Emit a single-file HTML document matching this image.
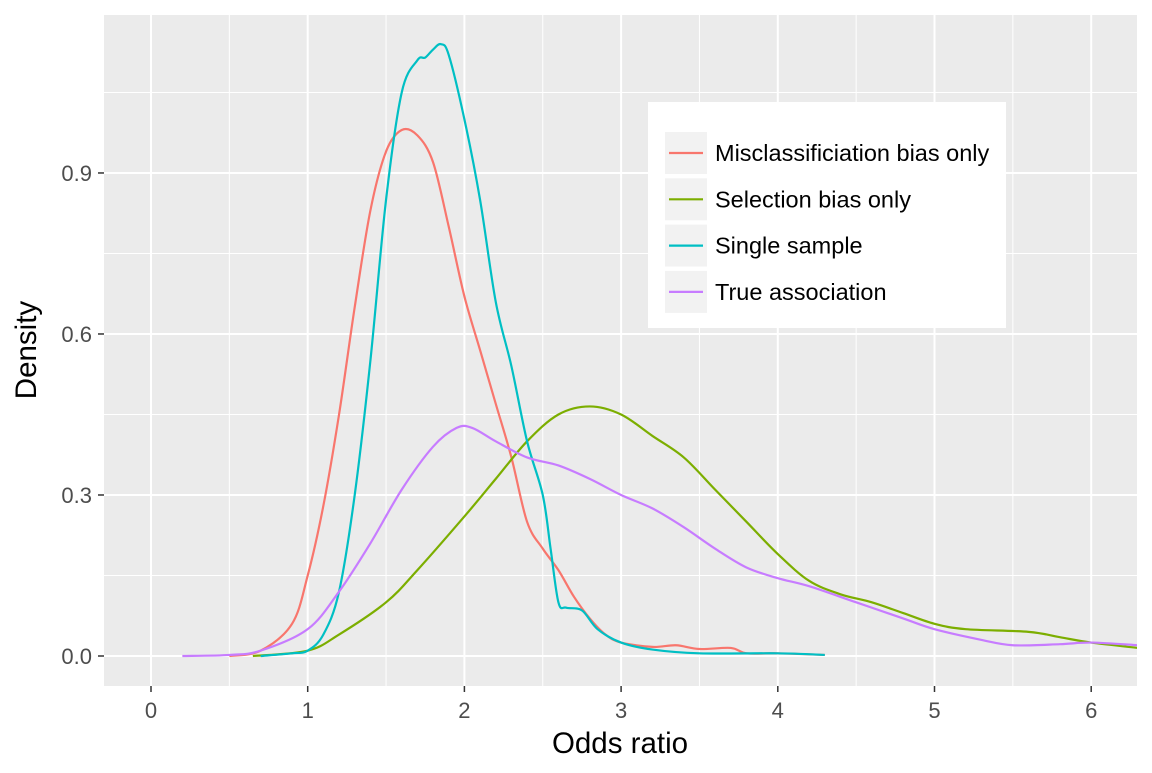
<!DOCTYPE html>
<html><head><meta charset="utf-8"><style>
body{margin:0;background:#fff;font-family:"Liberation Sans",sans-serif}
</style></head><body>
<svg id="c" width="1152" height="768" xmlns="http://www.w3.org/2000/svg">
<defs><clipPath id="pc"><rect x="104" y="15" width="1033" height="671"/></clipPath></defs>
<rect x="104" y="15" width="1033" height="671" fill="#ebebeb"/>
<g id="grid"></g>
<g id="series" clip-path="url(#pc)"></g>
<g id="axes"></g>
<text x="620" y="753" text-anchor="middle" font-size="29.5" fill="#000">Odds ratio</text>
<text transform="translate(36,350) rotate(-90)" text-anchor="middle" font-size="29.5" fill="#000">Density</text>
<g id="legend"></g>
</svg>
<script>
const xTicks=[0,1,2,3,4,5,6];
const yTicks=[0,0.3,0.6,0.9];
const yTickLabels=["0.0","0.3","0.6","0.9"];
const seriesNames=["Misclassificiation bias only","Selection bias only","Single sample","True association"];
const seriesColors=["#f8766d","#7cae00","#00bfc4","#c77cff"];
const misX=[0.5,0.7,0.9,1.0,1.1,1.2,1.3,1.4,1.5,1.6,1.7,1.8,1.9,2.0,2.1,2.2,2.3,2.4,2.5,2.6,2.7,2.8,2.9,3.0,3.2,3.35,3.5,3.7,3.8,4.0,4.3];
const misY=[0,0.01,0.06,0.15,0.28,0.45,0.65,0.83,0.94,0.98,0.97,0.92,0.80,0.67,0.57,0.47,0.37,0.25,0.2,0.16,0.11,0.07,0.04,0.025,0.017,0.02,0.013,0.015,0.005,0.005,0.002];
const selX=[0.65,1.0,1.2,1.5,1.7,2.0,2.2,2.4,2.6,2.8,3.0,3.2,3.4,3.6,3.8,4.0,4.2,4.4,4.6,4.8,5.0,5.2,5.6,5.8,6.0,6.3];
const selY=[0,0.01,0.04,0.1,0.16,0.26,0.33,0.4,0.45,0.465,0.45,0.41,0.37,0.31,0.25,0.19,0.14,0.115,0.1,0.08,0.06,0.05,0.045,0.035,0.025,0.015];
const sinX=[0.7,0.9,1.0,1.1,1.2,1.3,1.4,1.5,1.6,1.7,1.75,1.8,1.85,1.9,2.0,2.1,2.2,2.3,2.4,2.5,2.55,2.6,2.65,2.75,2.85,3.0,3.2,3.5,4.0,4.3];
const sinY=[0,0.005,0.01,0.04,0.12,0.3,0.55,0.85,1.05,1.11,1.115,1.13,1.14,1.12,1.0,0.85,0.66,0.54,0.4,0.3,0.2,0.1,0.09,0.085,0.05,0.025,0.012,0.005,0.005,0.002];
const truX=[0.2,0.5,0.7,1.0,1.2,1.4,1.6,1.8,1.95,2.05,2.2,2.4,2.6,2.8,3.0,3.2,3.4,3.6,3.8,4.0,4.2,4.5,4.8,5.0,5.3,5.5,5.8,6.0,6.3];
const truY=[0,0.002,0.01,0.05,0.12,0.21,0.31,0.39,0.425,0.425,0.4,0.37,0.355,0.33,0.3,0.275,0.24,0.2,0.165,0.145,0.13,0.1,0.07,0.05,0.03,0.02,0.022,0.025,0.02];
const allX=[misX,selX,sinX,truX], allY=[misY,selY,sinY,truY];
const X=v=>151+v*156.7, Y=v=>656-v*536.7;
const NS="http://www.w3.org/2000/svg";
function mk(p,t,a){const e=document.createElementNS(NS,t);for(const k in a)e.setAttribute(k,a[k]);p.appendChild(e);return e;}
const grid=document.getElementById('grid'),axes=document.getElementById('axes');
for(let i=0;i<xTicks.length;i++){
 const v=xTicks[i];
 const g=mk(grid,'line',{x1:X(v),x2:X(v),y1:15,y2:686,stroke:'#fff','stroke-width':2});
 
 
 const m=mk(grid,'line',{x1:X(v+0.5),x2:X(v+0.5),y1:15,y2:686,stroke:'#fff','stroke-width':1});
 
 
 mk(axes,'line',{x1:X(v),x2:X(v),y1:686,y2:692,stroke:'#333','stroke-width':1.5});
 const t=mk(axes,'text',{x:X(v),y:718,'text-anchor':'middle','font-size':22,fill:'#4d4d4d'});t.textContent=v;
 
 
}
mk(grid,'line',{x1:X(-0.5),x2:X(-0.5),y1:15,y2:686,stroke:'#fff','stroke-width':1});
for(let i=0;i<yTicks.length;i++){
 const v=yTicks[i];
 const g=mk(grid,'line',{x1:104,x2:1137,y1:Y(v),y2:Y(v),stroke:'#fff','stroke-width':2});
 
 
 const m=mk(grid,'line',{x1:104,x2:1137,y1:Y(v+0.15),y2:Y(v+0.15),stroke:'#fff','stroke-width':1});
 
 
 mk(axes,'line',{x1:98,x2:104,y1:Y(v),y2:Y(v),stroke:'#333','stroke-width':1.5});
 const t=mk(axes,'text',{x:92,y:Y(v)+8,'text-anchor':'end','font-size':22,fill:'#4d4d4d'});t.textContent=yTickLabels[i];
 
 
}
function path(xs,ys){
 const p=xs.map((x,i)=>[X(x),Y(ys[i])]);
 let d='M'+p[0][0]+','+p[0][1];
 for(let i=0;i<p.length-1;i++){
  const p0=p[i-1]||p[i],p1=p[i],p2=p[i+1],p3=p[i+2]||p2;
  const c1=[p1[0]+(p2[0]-p0[0])/6,p1[1]+(p2[1]-p0[1])/6],c2=[p2[0]-(p3[0]-p1[0])/6,p2[1]-(p3[1]-p1[1])/6];
  d+=` C${c1[0]},${c1[1]} ${c2[0]},${c2[1]} ${p2[0]},${p2[1]}`;
 }
 return d;
}
const sg=document.getElementById('series');
const snames=['misclassification-curve','selection-curve','single-sample-curve','true-association-curve'];
for(let s=0;s<4;s++){
 const e=mk(sg,'path',{d:path(allX[s],allY[s]),fill:'none',stroke:seriesColors[s],'stroke-width':2.2});
 
 
}
const lg=document.getElementById('legend');
mk(lg,'rect',{x:648,y:102,width:358,height:226,fill:'#fff'});
for(let s=0;s<4;s++){
 const cy=153+s*46.3;
 mk(lg,'rect',{x:665,y:cy-21,width:42,height:42,fill:'#f2f2f2'});
 mk(lg,'line',{x1:669,x2:703,y1:cy,y2:cy,stroke:seriesColors[s],'stroke-width':2.2});
 const t=mk(lg,'text',{x:715,y:cy+8,'font-size':23.5,fill:'#000'});t.textContent=seriesNames[s];
 
 
}
</script>
</body></html>
